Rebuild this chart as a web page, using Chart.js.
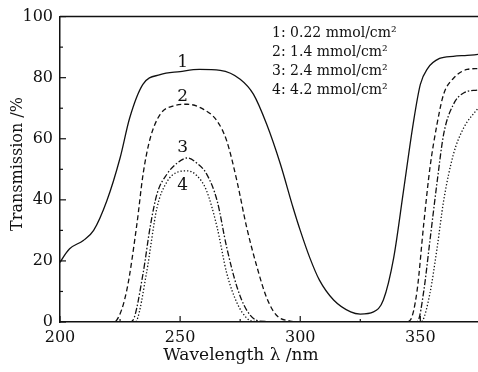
<!DOCTYPE html>
<html>
<head>
<meta charset="utf-8">
<script src="https://cdn.jsdelivr.net/npm/chart.js@4/dist/chart.umd.min.js"></script>
<style>
  body { margin: 0; background: #fff; }
  canvas { display: block; }
</style>
</head>
<body>
<canvas id="specChart" width="478" height="372"></canvas>
<script>
// curve 1: 0.22 mmol/cm2
const wl1 = [200, 202, 204, 209.7, 214, 219.5, 225, 229, 234.5, 241.7, 250, 258, 266.7, 275, 280.5, 286, 291.7, 297, 300, 304, 308, 313.9, 321, 325, 330.5, 334.6, 338.9, 343, 347, 350, 353, 358, 363.7, 369.5, 374];
const tr1 = [19.5, 22, 24, 26.7, 30, 39.7, 53.7, 66.8, 77.8, 81, 82, 82.7, 82.4, 79.5, 74.6, 64.8, 51.8, 37.5, 30, 21, 13.7, 7.2, 3.3, 2.6, 3.3, 7.2, 21, 43, 64.8, 77.8, 83, 86.3, 87, 87.3, 87.6];
// curve 2: 1.4 mmol/cm2
const wl2 = [200, 222, 223.6, 227.8, 232, 234.6, 237.5, 241.7, 247, 253, 259.6, 265.4, 269.4, 273.7, 277.7, 282, 286, 290, 295.8, 300, 344, 345.8, 348.6, 351.4, 354, 357, 359.7, 363.8, 369.5, 374];
const tr2 = [0, 0, 0.6, 10.4, 32, 48.5, 60, 68, 70.7, 71.3, 69.7, 65.8, 59.3, 46, 31, 18, 8, 2.3, 0.3, 0, 0, 0.6, 10, 32, 50.5, 65, 74.6, 79.8, 82.7, 83];
// curve 3: 2.4 mmol/cm2
const wl3 = [200, 229, 230.4, 234.6, 237.5, 240.4, 244.6, 248.7, 253, 257, 261, 265.4, 269.4, 273.7, 277.7, 283, 300, 348, 349, 351.4, 354, 357, 359.7, 363.8, 368, 374];
const tr3 = [0, 0, 0.6, 16, 31, 42, 48.5, 52, 53.7, 52, 48.5, 39.7, 24.4, 11.4, 3.9, 0.3, 0, 0, 0.3, 10, 26.7, 46, 61.5, 71.3, 75, 76];
// curve 4: 4.2 mmol/cm2
const wl4 = [200, 231, 232, 236, 240.4, 244.6, 248.7, 253, 257, 261, 265.4, 269.4, 273.7, 277.7, 280.5, 300, 350, 350.8, 354, 357, 359.7, 363.8, 368, 374];
const tr4 = [0, 0, 0.6, 16, 37.5, 46, 49, 49.5, 47.9, 43, 31, 16, 6.2, 1.3, 0.2, 0, 0, 0.3, 9.4, 24.4, 39.7, 55, 63.5, 70];

const curveNames = ['1', '2', '3', '4'];
const curveLabelX = [251.1, 251.1, 251.1, 251.1];
const curveLabelY = [84.9, 73.9, 57, 44.6];
const legendLines = ['1: 0.22 mmol/cm²', '2: 1.4 mmol/cm²', '3: 2.4 mmol/cm²', '4: 4.2 mmol/cm²'];

const ink = '#111';
const serif = '"DejaVu Serif", serif';

function pts(xs, ys) {
    return xs.map((x, i) => ({ x: x, y: ys[i] }));
}

function curve(xs, ys, dash) {
    return {
        data: pts(xs, ys),
        borderColor: ink,
        borderWidth: 1.3,
        borderDash: dash,
        pointRadius: 0,
        cubicInterpolationMode: 'monotone',
        fill: false
    };
}

// inner ticks, top border, curve numbers, legend text and axis titles
const overlay = {
    id: 'overlay',
    afterDraw(chart) {
        const { ctx, chartArea, scales: { x, y } } = chart;
        ctx.save();
        ctx.strokeStyle = ink;
        ctx.lineWidth = 1.5;
        ctx.beginPath();
        ctx.moveTo(chartArea.left, chartArea.top);
        ctx.lineTo(chartArea.right, chartArea.top);
        ctx.stroke();

        ctx.lineWidth = 1.2;
        for (let v = 200; v <= x.max; v += 25) {
            const px = x.getPixelForValue(v);
            const len = v % 50 === 0 ? 6 : 3;
            ctx.beginPath();
            ctx.moveTo(px, chartArea.bottom);
            ctx.lineTo(px, chartArea.bottom - len);
            ctx.stroke();
        }
        for (let v = 0; v <= 100; v += 10) {
            const py = y.getPixelForValue(v);
            const len = v % 20 === 0 ? 6 : 3;
            ctx.beginPath();
            ctx.moveTo(chartArea.left, py);
            ctx.lineTo(chartArea.left + len, py);
            ctx.stroke();
        }

        ctx.fillStyle = ink;
        ctx.textAlign = 'center';
        ctx.textBaseline = 'middle';
        ctx.font = '17px ' + serif;
        curveNames.forEach((n, i) => {
            ctx.fillText(n, x.getPixelForValue(curveLabelX[i]), y.getPixelForValue(curveLabelY[i]));
        });

        ctx.textAlign = 'left';
        ctx.font = '14px ' + serif;
        legendLines.forEach((t, i) => {
            ctx.fillText(t, 272, 33 + i * 19);
        });

        ctx.textAlign = 'center';
        ctx.font = '17px ' + serif;
        ctx.fillText('Wavelength λ /nm', 241, 356);

        ctx.translate(18, 164);
        ctx.rotate(-Math.PI / 2);
        ctx.font = '16px ' + serif;
        ctx.fillText('Transmission /%', 0, 0);
        ctx.restore();
    }
};

const chart = new Chart(document.getElementById('specChart').getContext('2d'), {
    type: 'line',
    data: {
        datasets: [
            curve(wl1, tr1, []),
            curve(wl2, tr2, [5, 3]),
            curve(wl3, tr3, [6, 2, 1.5, 2]),
            curve(wl4, tr4, [1.3, 2])
        ]
    },
    options: {
        responsive: false,
        animation: false,
        layout: { padding: { top: 15, right: 0, left: 0, bottom: 0 } },
        plugins: {
            legend: { display: false },
            tooltip: { enabled: false }
        },
        scales: {
            x: {
                type: 'linear',
                min: 200,
                max: 374,
                grid: { display: false, drawTicks: false, tickLength: 0 },
                border: { display: true, color: ink, width: 1.5 },
                ticks: {
                    stepSize: 50,
                    includeBounds: false,
                    color: ink,
                    padding: 6,
                    maxRotation: 0,
                    font: { family: serif, size: 16 }
                },
                afterFit(scale) { scale.height = 50; }
            },
            y: {
                min: 0,
                max: 100,
                grid: { display: false, drawTicks: false, tickLength: 0 },
                border: { display: true, color: ink, width: 1.5 },
                ticks: {
                    stepSize: 20,
                    color: ink,
                    padding: 7,
                    font: { family: serif, size: 16 }
                },
                afterFit(scale) { scale.width = 60; }
            }
        }
    },
    plugins: [overlay]
});
</script>
</body>
</html>
